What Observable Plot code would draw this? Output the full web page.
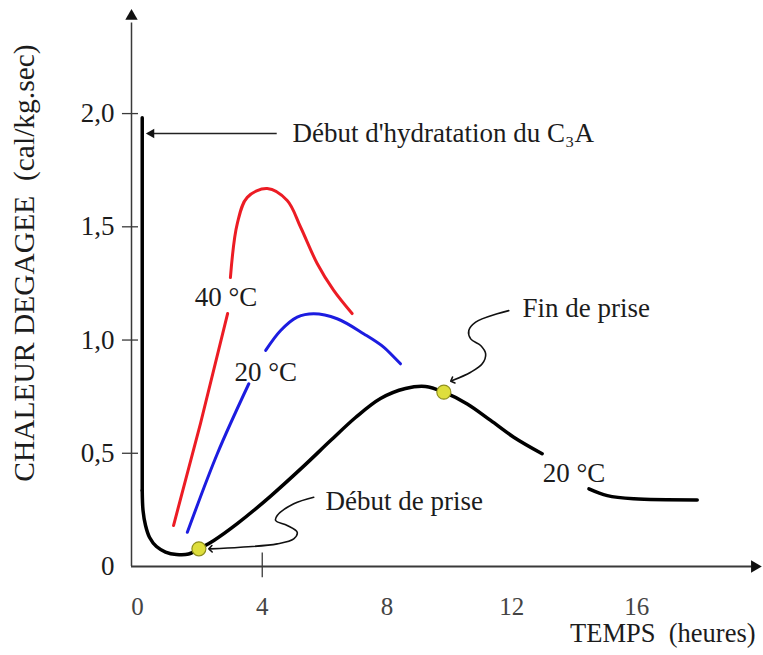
<!DOCTYPE html>
<html><head><meta charset="utf-8">
<script src="https://cdn.jsdelivr.net/npm/d3@7"></script>
<script src="https://cdn.jsdelivr.net/npm/@observablehq/plot@0.6"></script>
<style>body{margin:0;background:#fff}</style>
</head><body><div id="chart"></div>
<script>
// Axes
const xTicks = [0, 4, 8, 12, 16];
const xTickLabels = ["0", "4", "8", "12", "16"];
const yTicks = [0, 0.5, 1.0, 1.5, 2.0];
const yTickLabels = ["0", "0,5", "1,0", "1,5", "2,0"];
const xTitle = "TEMPS\u00a0\u00a0(heures)";
const yTitle = "CHALEUR DEGAGEE\u00a0\u00a0(cal/kg.sec)";

// Black curve (20 °C, pâte) – vertical start, then the main piece, then the tail after its label
const noirDebutT = [0.154, 0.154];
const noirDebutV = [1.982, 0.336];
const noirT = [0.154, 0.18, 0.26, 0.39, 0.61, 0.90, 1.25, 1.64, 1.97, 2.45, 3.20, 4.27, 5.32, 6.19, 6.99, 7.79, 8.59, 9.23, 9.82, 10.57, 11.32, 12.06, 12.97];
const noirV = [0.336, 0.247, 0.181, 0.128, 0.088, 0.064, 0.053, 0.055, 0.078, 0.115, 0.189, 0.311, 0.442, 0.556, 0.658, 0.742, 0.786, 0.795, 0.770, 0.718, 0.645, 0.571, 0.498];
const noirFinT = [14.47, 15.06, 15.91, 17.94];
const noirFinV = [0.343, 0.313, 0.299, 0.294];

// Red curve (40 °C)
const rougeBasT = [1.157, 2.02, 2.89];
const rougeBasV = [0.181, 0.631, 1.117];
const rougeHautT = [2.98, 3.20, 3.52, 4.16, 4.80, 5.23, 5.76, 6.29, 6.88];
const rougeHautV = [1.276, 1.514, 1.630, 1.669, 1.616, 1.498, 1.338, 1.219, 1.117];

// Blue curve (20 °C)
const bleuBasT = [1.60, 2.56, 3.57];
const bleuBasV = [0.151, 0.498, 0.807];
const bleuHautT = [4.11, 4.59, 5.12, 5.65, 6.40, 7.26, 7.90, 8.43];
const bleuHautV = [0.954, 1.042, 1.101, 1.116, 1.094, 1.027, 0.968, 0.895];

// Setting points (début / fin de prise)
const priseT = [1.97, 9.82];
const priseV = [0.078, 0.770];

// Annotation leaders
const finFlecheT = [11.90, 11.53, 10.84, 10.62, 10.68, 11.00, 11.16, 11.05, 10.68, 10.09];
const finFlecheV = [1.130, 1.116, 1.079, 1.042, 1.005, 0.976, 0.939, 0.895, 0.858, 0.821];
const debFlecheT = [5.65, 5.01, 4.48, 4.43, 4.80, 5.12, 5.01, 4.48, 3.30, 2.34];
const debFlecheV = [0.306, 0.277, 0.225, 0.203, 0.181, 0.151, 0.122, 0.100, 0.085, 0.078];
const hydraFlecheT = [4.48, 0.45];

// Labels
const labelTexts = ["Début d'hydratation du C\u2083A", "40 °C", "20 °C", "20 °C", "Fin de prise", "Début de prise"];
const labelT = [4.97, 2.84, 4.11, 13.99, 12.34, 6.03];
const labelV = [1.912, 1.188, 0.857, 0.411, 1.139, 0.287];
const labelAnchor = ["start", "middle", "middle", "middle", "start", "start"];

const pts = (T, V) => T.map((t, i) => ({t, v: V[i]}));
const labels = labelTexts.map((s, i) => ({s, t: labelT[i], v: labelV[i], a: labelAnchor[i]}));

const font = "Liberation Serif, Times New Roman, serif";
const ink = "#1c1c1c";
const lineOpts = (color, w, curve = "catmull-rom") => ({x: "t", y: "v", stroke: color, strokeWidth: w, curve, strokeLinecap: "round"});
const txt = (o) => ({fontFamily: font, fill: ink, lineAnchor: "middle", ...o});

const chart = Plot.plot({
  width: 763,
  height: 655,
  marginLeft: 131,
  marginRight: 2,
  marginTop: 8,
  marginBottom: 89,
  style: {fontFamily: font, background: "#fff"},
  x: {domain: [-0.19, 20], axis: null},
  y: {domain: [0, 2.464], axis: null},
  marks: [
    // axis lines + arrowheads
    Plot.ruleX([-0.19], {y1: 0, y2: 2.40, stroke: "#3a3a3a", strokeWidth: 1.5}),
    Plot.dot([{t: -0.19, v: 2.43}], {x: "t", y: "v", symbol: "triangle", r: 4.6, fill: "#111", stroke: "none"}),
    Plot.ruleY([0], {x1: -0.19, x2: 19.7, stroke: "#3a3a3a", strokeWidth: 2}),
    Plot.dot([{t: 19.78, v: 0}], {x: "t", y: "v", symbol: "triangle", r: 4.6, rotate: 90, fill: "#111", stroke: "none"}),
    // ticks
    Plot.ruleY(yTicks.slice(1), {x1: -0.48, x2: 0.035, stroke: "#3a3a3a", strokeWidth: 1.3}),
    Plot.ruleX([xTicks[1]], {y1: -0.05, y2: 0.06, stroke: "#3a3a3a", strokeWidth: 1.3}),
    // tick labels
    Plot.text(xTicks, txt({x: d => d, y: 0, text: (d, i) => xTickLabels[i], dy: 40, fontSize: 25, fill: "#444"})),
    Plot.text(yTicks, txt({x: -0.19, y: d => d, text: (d, i) => yTickLabels[i], dx: -17, textAnchor: "end", fontSize: 27})),
    // axis titles
    Plot.text([xTitle], txt({x: 19.81, y: -0.296, text: d => d, textAnchor: "end", fontSize: 26.5})),
    Plot.text([yTitle], txt({x: -3.62, y: 1.34, text: d => d, rotate: -90, fontSize: 29.5})),
    // curves
    Plot.line(pts(rougeBasT, rougeBasV), lineOpts("#ec1c24", 3, "linear")),
    Plot.line(pts(rougeHautT, rougeHautV), lineOpts("#ec1c24", 3)),
    Plot.line(pts(bleuBasT, bleuBasV), lineOpts("#1c1ce0", 3)),
    Plot.line(pts(bleuHautT, bleuHautV), lineOpts("#1c1ce0", 3)),
    Plot.line(pts(noirDebutT, noirDebutV), lineOpts("#000", 3.5, "linear")),
    Plot.line(pts(noirT, noirV), lineOpts("#000", 3.5)),
    Plot.line(pts(noirFinT, noirFinV), lineOpts("#000", 3.5)),
    // leaders
    Plot.line(pts(finFlecheT, finFlecheV), {x: "t", y: "v", stroke: "#111", strokeWidth: 1.6, curve: "catmull-rom", markerEnd: "arrow"}),
    Plot.line(pts(debFlecheT, debFlecheV), {x: "t", y: "v", stroke: "#111", strokeWidth: 1.6, curve: "catmull-rom", markerEnd: "arrow"}),
    Plot.ruleY([labelV[0]], {x1: hydraFlecheT[0], x2: hydraFlecheT[1], stroke: "#222", strokeWidth: 1.6}),
    Plot.dot([{t: hydraFlecheT[1], v: labelV[0]}], {x: "t", y: "v", symbol: "triangle", r: 3.6, rotate: -90, fill: "#111", stroke: "none"}),
    // setting points
    Plot.dot(pts(priseT, priseV), {x: "t", y: "v", r: 7, fill: "#dede3c", stroke: "#8f8f1e", strokeWidth: 1.2}),
    // labels
    Plot.text(labels, txt({filter: d => d.a === "start", x: "t", y: "v", text: "s", textAnchor: "start", fontSize: 27})),
    Plot.text(labels, txt({filter: d => d.a === "middle", x: "t", y: "v", text: "s", textAnchor: "middle", fontSize: 27}))
  ]
});
document.getElementById("chart").appendChild(chart);
</script>
</body></html>
